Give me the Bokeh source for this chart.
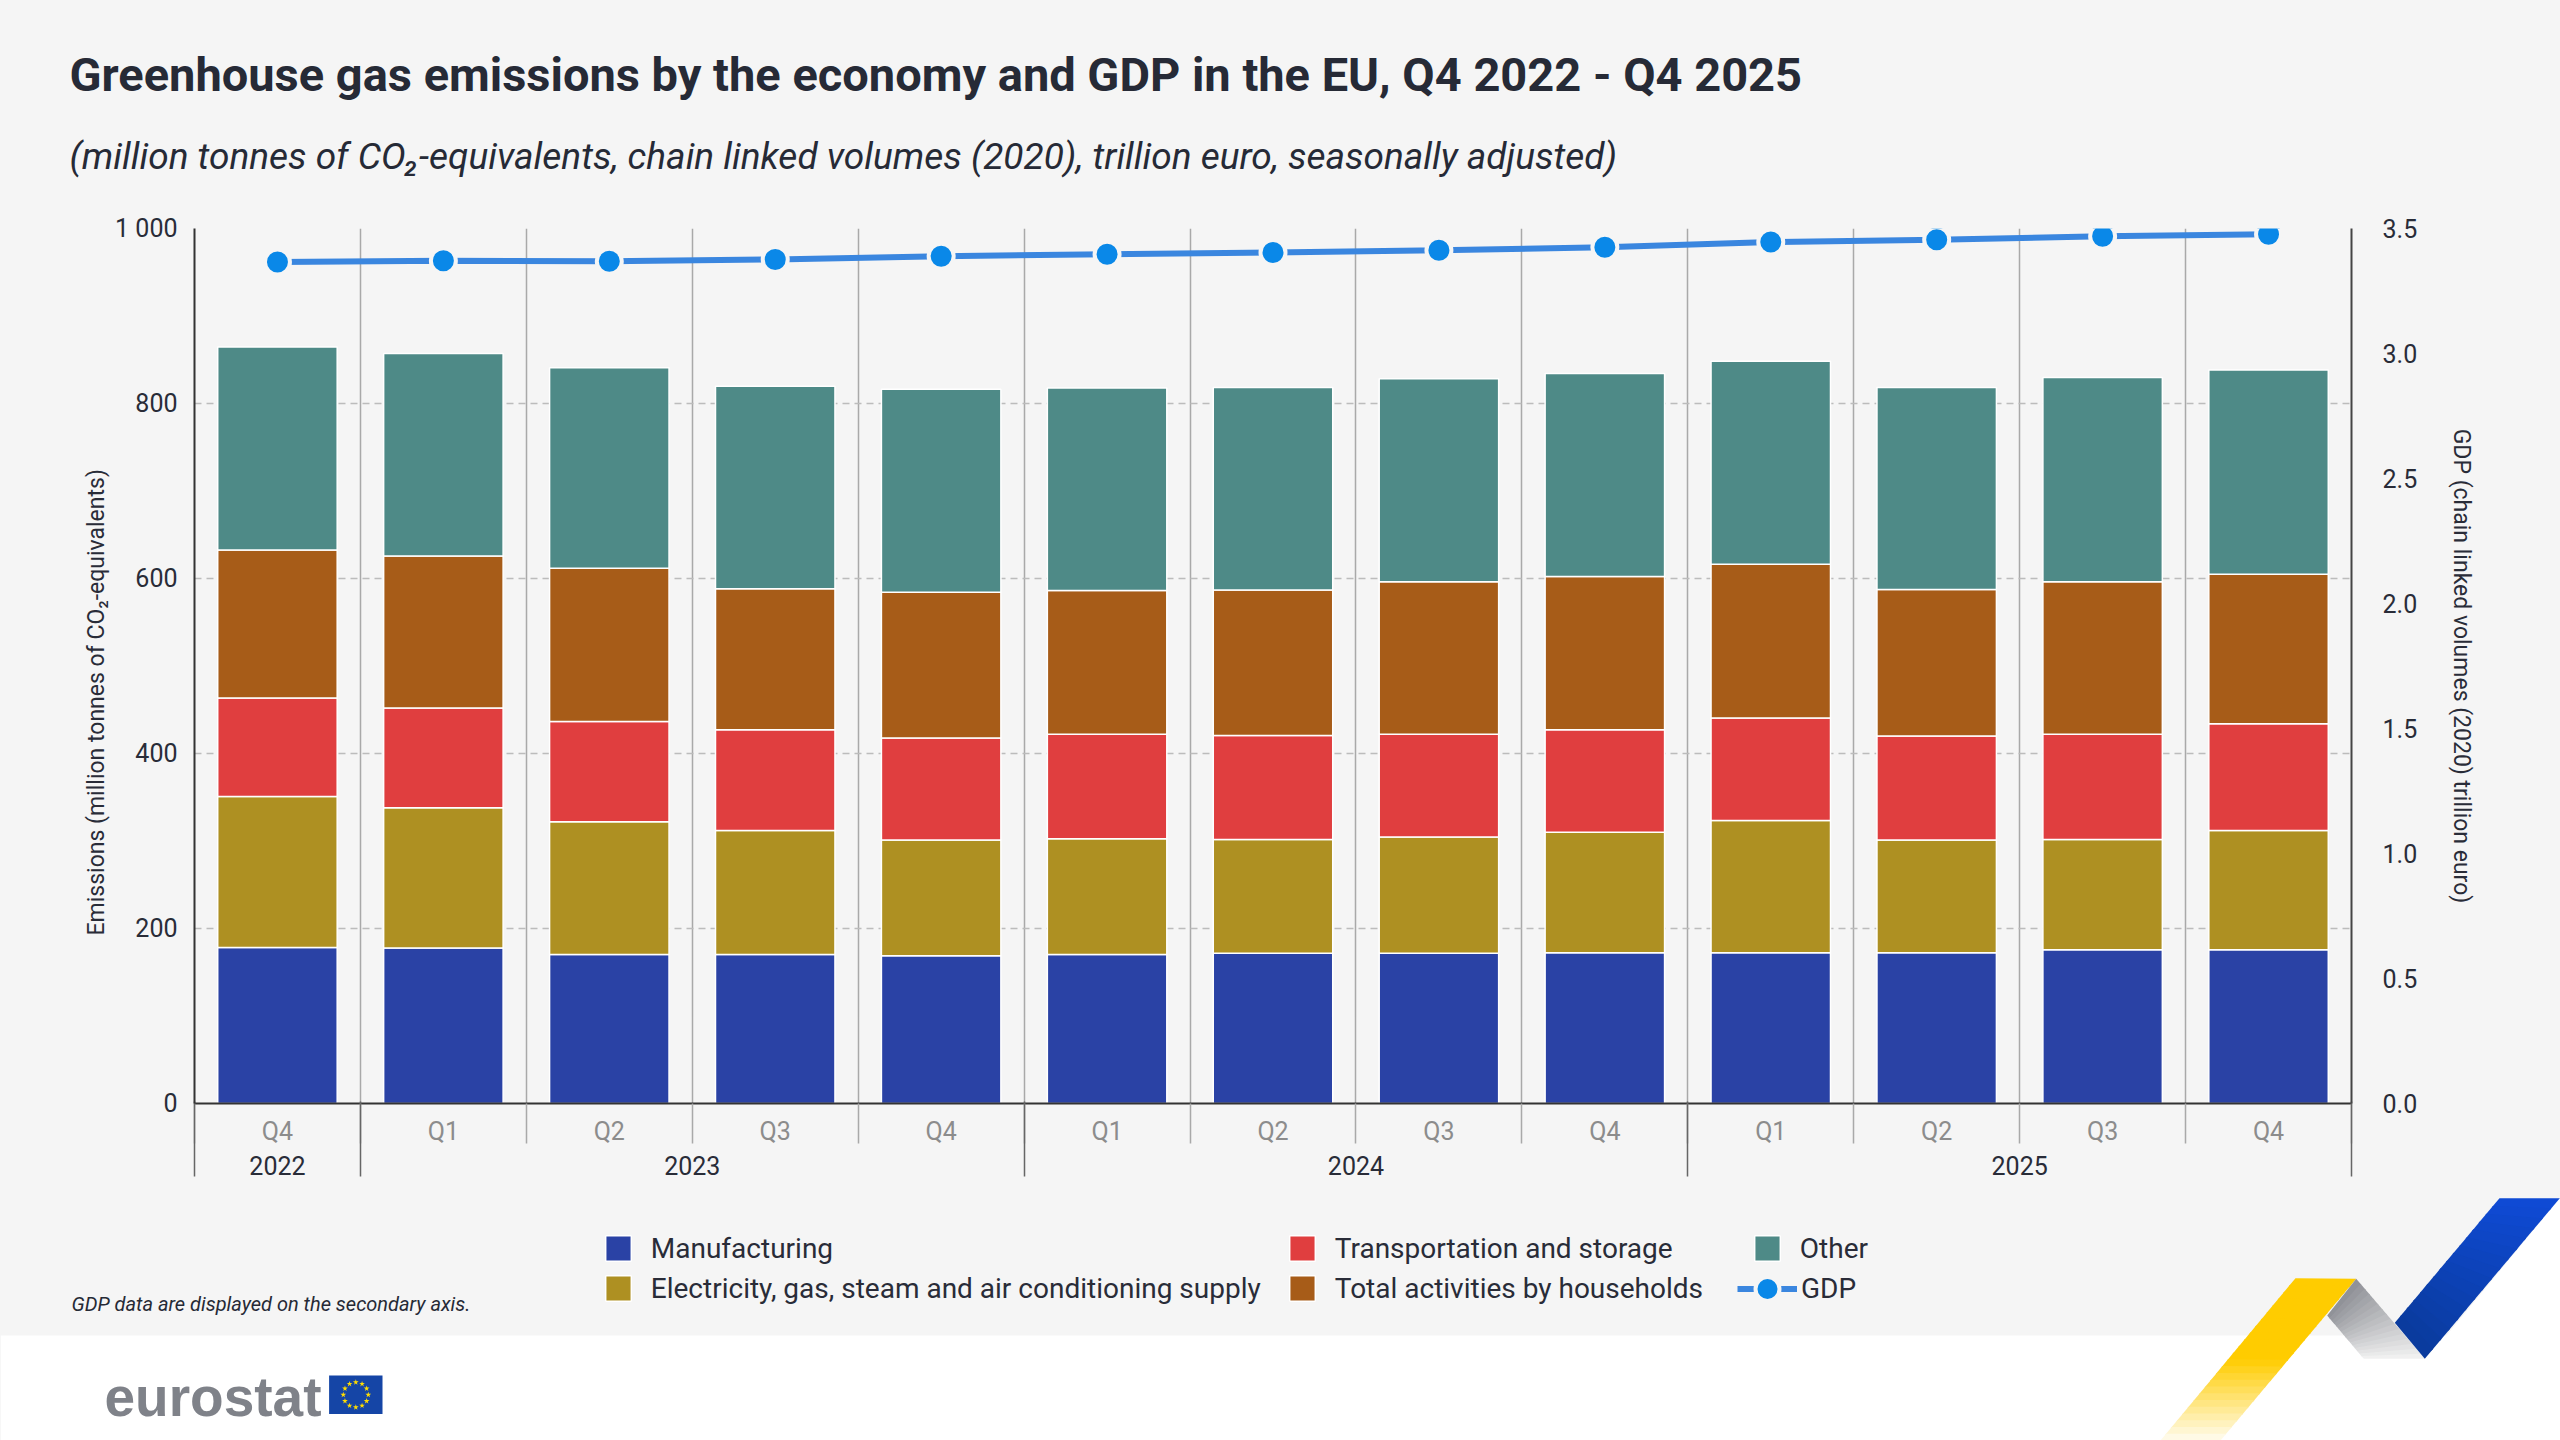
import math
from bokeh.plotting import figure
from bokeh.layouts import column
from bokeh.models import (Range1d, LinearAxis, FixedTicker, NumeralTickFormatter, Label,
                          Legend, LegendItem, ColumnDataSource, Title)
from bokeh.core.properties import value
from bokeh.embed import file_html
from bokeh.resources import INLINE

# ---------------- data ----------------
quarters = ["Q4", "Q1", "Q2", "Q3", "Q4", "Q1", "Q2", "Q3", "Q4", "Q1", "Q2", "Q3", "Q4"]
years = ["2022", "2023", "2024", "2025"]
quarters_per_year = [1, 4, 4, 4]

manufacturing = [178.4, 177.7, 170.4, 170.4, 169.0, 170.4, 171.7, 171.7, 172.4, 172.4, 172.4, 175.7, 175.7]
electricity = [172.4, 160.3, 151.5, 141.5, 132.1, 132.1, 130.1, 132.8, 137.5, 150.9, 128.7, 126.1, 136.2]
transport = [112.6, 114.0, 114.7, 115.3, 116.7, 119.4, 118.7, 117.4, 117.3, 117.3, 118.8, 120.1, 122.0]
households = [169.1, 173.8, 175.1, 161.0, 166.4, 164.3, 166.4, 174.3, 175.1, 175.8, 167.6, 174.3, 171.1]
other = [232.0, 231.3, 229.3, 231.4, 232.0, 231.4, 231.3, 232.1, 232.0, 232.0, 230.7, 233.4, 233.4]
gdp = [3.366, 3.371, 3.369, 3.376, 3.389, 3.397, 3.404, 3.413, 3.425, 3.446, 3.455, 3.469, 3.477]

series_names = ["Manufacturing", "Electricity, gas, steam and air conditioning supply",
                "Transportation and storage", "Total activities by households", "Other"]
series_keys = ["manuf", "elec", "trans", "hh", "other"]
series_colors = ["#2a42a5", "#ae9022", "#e03e3f", "#a75c18", "#4e8a87"]

left_ticks = [0, 200, 400, 600, 800, 1000]
left_tick_labels = ["0", "200", "400", "600", "800", "1 000"]
right_ticks = [0.0, 0.5, 1.0, 1.5, 2.0, 2.5, 3.0, 3.5]

title_text = "Greenhouse gas emissions by the economy and GDP in the EU, Q4 2022 - Q4 2025"
subtitle_text = ("(million tonnes of CO\u2082-equivalents, chain linked volumes (2020), "
                 "trillion euro, seasonally adjusted)")
note_text = "GDP data are displayed on the secondary axis."
left_title = "Emissions (million tonnes of CO\u2082-equivalents)"
right_title = "GDP (chain linked volumes (2020) trillion euro)"

# ---------------- style ----------------
BG = "#f5f5f5"
DARK = "#292c38"
FONT = "Roboto"
W = 2560
TOP_H, MAIN_H, BOT_H = 190, 1000, 250          # stacked: 0-190, 190-1190, 1190-1440
FL, FT, FR, FB = 194, 228, 2351, 1103          # chart frame in page pixels
LEFT_TITLE_START = 935                         # page y where the rotated left title begins

GDP_LINE = "#3a86df"
GDP_MARK = "#0a88e8"


def no_align(f):
    try:
        f.frame_align = False
    except Exception:
        pass
    return f


def blank_fig(h):
    f = figure(width=W, height=h, x_range=Range1d(0, W), y_range=Range1d(0, h),
               output_backend="svg", toolbar_location=None,
               x_axis_location=None, y_axis_location=None,
               min_border_left=0, min_border_right=0, min_border_top=0, min_border_bottom=0,
               background_fill_color=BG, border_fill_color=BG, outline_line_color=None)
    f.xgrid.visible = False
    f.ygrid.visible = False
    return no_align(f)


# ================= top: title =================
top = blank_fig(TOP_H)
top.add_layout(Label(x=69, y=TOP_H - 74, text=title_text, text_font=FONT,
                     text_font_size="47px", text_font_style="bold",
                     text_color="#262a36", text_baseline="middle"))
top.add_layout(Label(x=69, y=TOP_H - 156, text=subtitle_text, text_font=FONT,
                     text_font_size="37px", text_font_style="italic",
                     text_color="#262a36", text_baseline="middle"))

# ================= main chart =================
n = len(quarters)
xpos = list(range(n))
bounds = [i - 0.5 for i in range(n + 1)]
year_bounds = [-0.5]
year_centers = []
acc = 0
for c in quarters_per_year:
    year_centers.append(acc + (c - 1) / 2)
    acc += c
    year_bounds.append(acc - 0.5)

p = figure(width=W, height=MAIN_H, x_range=Range1d(-0.5, n - 0.5), y_range=Range1d(0, 1000),
           output_backend="svg", toolbar_location=None,
           min_border_left=FL, min_border_right=W - FR, min_border_top=FT - TOP_H,
           min_border_bottom=TOP_H + MAIN_H - FB,
           background_fill_color=BG, border_fill_color=BG, outline_line_color=None)
no_align(p)
p.extra_y_ranges = {"gdp": Range1d(0, 3.5)}

p.ygrid.ticker = FixedTicker(ticks=left_ticks[1:])
p.ygrid.grid_line_color = "#bcbcbc"
p.ygrid.grid_line_width = 1.5
p.ygrid.grid_line_dash = "7 5"
p.xgrid.ticker = FixedTicker(ticks=bounds[1:-1])
p.xgrid.grid_line_color = "#a9a9a9"
p.xgrid.grid_line_width = 1.5

ya = p.yaxis[0]
ya.ticker = FixedTicker(ticks=left_ticks)
ya.major_label_overrides = {t: l for t, l in zip(left_ticks, left_tick_labels)}
ya.axis_line_color = "#333333"
ya.axis_line_width = 2
ya.major_tick_out = 0
ya.major_tick_in = 0
ya.minor_tick_line_color = None
ya.major_label_standoff = 17
ya.major_label_text_font = FONT
ya.major_label_text_font_size = "25px"
ya.major_label_text_color = DARK

# left axis title, centred on the block from the plot top to the year labels
p.add_layout(Title(text=left_title, align="left", offset=FB - LEFT_TITLE_START,
                   text_font=FONT, text_font_size="23px", text_font_style="normal",
                   text_color=DARK, standoff=5), "left")

ra = LinearAxis(y_range_name="gdp", ticker=FixedTicker(ticks=right_ticks),
                formatter=NumeralTickFormatter(format="0.0"))
ra.axis_line_color = "#444444"
ra.axis_line_width = 2
ra.major_tick_out = 0
ra.major_tick_in = 0
ra.minor_tick_line_color = None
ra.major_label_standoff = 31
ra.major_label_text_font = FONT
ra.major_label_text_font_size = "25px"
ra.major_label_text_color = DARK
ra.axis_label = right_title
ra.axis_label_text_font = FONT
ra.axis_label_text_font_size = "23px"
ra.axis_label_text_font_style = "normal"
ra.axis_label_text_color = DARK
ra.axis_label_standoff = 28
p.add_layout(ra, "right")

qa = p.xaxis[0]
qa.ticker = FixedTicker(ticks=xpos, minor_ticks=bounds)
qa.major_label_overrides = {i: q for i, q in zip(xpos, quarters)}
qa.axis_line_color = "#333333"
qa.axis_line_width = 2
qa.major_tick_out = 0
qa.major_tick_in = 0
qa.minor_tick_out = 40
qa.minor_tick_in = 0
qa.minor_tick_line_color = "#a9a9a9"
qa.minor_tick_line_width = 1.5
qa.major_label_standoff = -27
qa.major_label_text_font = FONT
qa.major_label_text_font_size = "25px"
qa.major_label_text_color = "#8c8c8c"

yax = LinearAxis(ticker=FixedTicker(ticks=year_centers, minor_ticks=year_bounds))
yax.major_label_overrides = {c: y for c, y in zip(year_centers, years)}
yax.axis_line_color = None
yax.major_tick_out = 0
yax.major_tick_in = 0
yax.minor_tick_in = 47
yax.minor_tick_out = 28
yax.minor_tick_line_color = "#666666"
yax.minor_tick_line_width = 1.5
yax.major_label_standoff = -21
yax.major_label_text_font = FONT
yax.major_label_text_font_size = "25px"
yax.major_label_text_color = DARK
p.add_layout(yax, "below")

src = ColumnDataSource(dict(x=xpos, manuf=manufacturing, elec=electricity, trans=transport,
                            hh=households, other=other, gdp=gdp))
bars = p.vbar_stack(series_keys, x="x", width=0.72, color=series_colors, source=src,
                    line_color="white", line_width=1.5)
p.line(x="x", y="gdp", source=src, y_range_name="gdp", line_color=GDP_LINE, line_width=6)
p.scatter(x="x", y="gdp", source=src, y_range_name="gdp", size=25,
          fill_color=GDP_MARK, line_color=BG, line_width=4)

# ================= bottom: legend, note, logo =================
bot = blank_fig(BOT_H)


def by(Y):
    return TOP_H + MAIN_H + BOT_H - Y


white_pts = [(0, 1335), (2446, 1335), (2559.3, 1197.7), (2560, 1197.7), (2560, 1440), (0, 1440)]
bot.patch([a for a, b in white_pts], [by(b) for a, b in white_pts], fill_color="white",
          line_color=None)


def hex2rgb(h):
    h = h.lstrip("#")
    return [int(h[i:i + 2], 16) for i in (0, 2, 4)]


def lerpc(c0, c1, t):
    a, b = hex2rgb(c0), hex2rgb(c1)
    return "#%02x%02x%02x" % tuple(int(round(a[i] + (b[i] - a[i]) * t)) for i in range(3))


def lerp(P, Q, t):
    return (P[0] + (Q[0] - P[0]) * t, P[1] + (Q[1] - P[1]) * t)


def band(LT, LB, RT, RB, colfun, steps):
    xs, ys, cs = [], [], []
    for k in range(steps):
        u0 = k / steps
        u1 = min(1.0, (k + 1.2) / steps)
        pts = [lerp(LT, LB, u0), lerp(RT, RB, u0), lerp(RT, RB, u1), lerp(LT, LB, u1)]
        xs.append([a for a, b in pts])
        ys.append([by(b) for a, b in pts])
        cs.append(colfun((k + 0.5) / steps))
    bot.patches(xs, ys, fill_color=cs, line_color=None)


def yellow_col(t):
    if t < 0.5:
        return "#ffcc00"
    return lerpc("#ffcc00", "#fffcf0", (t - 0.5) / 0.5)


band((2295, 1277.7), (2160, 1440), (2355.7, 1278.3), (2220, 1440), yellow_col, 24)
band((2326.7, 1315), (2363.3, 1358.3), (2355.7, 1278.3), (2424.3, 1358.3),
     lambda t: lerpc("#8d8f95", "#f3f3f3", t), 16)
band((2499, 1197.7), (2394.3, 1322.3), (2559.3, 1197.7), (2424.3, 1358.3),
     lambda t: lerpc("#0f4bd6", "#0a3a9c", t), 16)

# EU flag
bot.quad(left=[328.6], right=[382], top=[by(1375)], bottom=[by(1413.6)],
         fill_color="#1545a6", line_color=None)
fcx, fcy, fr = 355.3, 1394.3, 12.5
bot.scatter([fcx + fr * math.sin(2 * math.pi * k / 12) for k in range(12)],
            [by(fcy - fr * math.cos(2 * math.pi * k / 12)) for k in range(12)],
            marker="star", size=6, fill_color="#ffdd00", line_color=None)

bot.add_layout(Label(x=71, y=by(1303), text=note_text, text_font=FONT,
                     text_font_size="20px", text_font_style="italic",
                     text_color="#262a36", text_baseline="middle"))
bot.add_layout(Label(x=104, y=by(1396), text="eurostat", text_font="Liberation Sans",
                     text_font_size="55px", text_font_style="bold",
                     text_color="#7f8289", text_baseline="middle"))

# legend proxies (kept outside the visible range of this panel)
proxies = [bot.vbar(x=[-100], top=[-100], width=10, fill_color=c, line_color="white",
                    line_width=1.5) for c in series_colors]
gdp_line_proxy = bot.line(x=[-200, -100], y=[-100, -100], line_color=GDP_LINE, line_width=6)
gdp_mark_proxy = bot.scatter(x=[-100], y=[-100], size=25, fill_color=GDP_MARK,
                             line_color=BG, line_width=4)


def make_legend(items, loc, gw, gh, standoff):
    lg = Legend(items=items, location=loc, orientation="vertical",
                border_line_color=None, background_fill_alpha=0, padding=0, margin=0,
                spacing=2, label_standoff=standoff, glyph_width=gw, glyph_height=gh,
                label_height=38, label_text_font=FONT, label_text_font_size="28px",
                label_text_color=DARK)
    bot.add_layout(lg)


make_legend([LegendItem(label=value(series_names[0]), renderers=[proxies[0]]),
             LegendItem(label=value(series_names[1]), renderers=[proxies[1]])],
            (605 - 3.2, by(1307)), 32, 32, 17)
make_legend([LegendItem(label=value(series_names[2]), renderers=[proxies[2]]),
             LegendItem(label=value(series_names[3]), renderers=[proxies[3]])],
            (1289 - 3.2, by(1307)), 32, 32, 17)
make_legend([LegendItem(label=value(series_names[4]), renderers=[proxies[4]])],
            (1754 - 3.2, by(1267)), 32, 32, 17)
make_legend([LegendItem(label=value("GDP"), renderers=[gdp_line_proxy, gdp_mark_proxy])],
            (1737, by(1320.5)), 60, 65, 4)

layout = column(top, p, bot, spacing=0)
try:
    layout.styles = {"background-color": BG}
except Exception:
    pass
open("out.html", "w").write(file_html(layout, INLINE))
